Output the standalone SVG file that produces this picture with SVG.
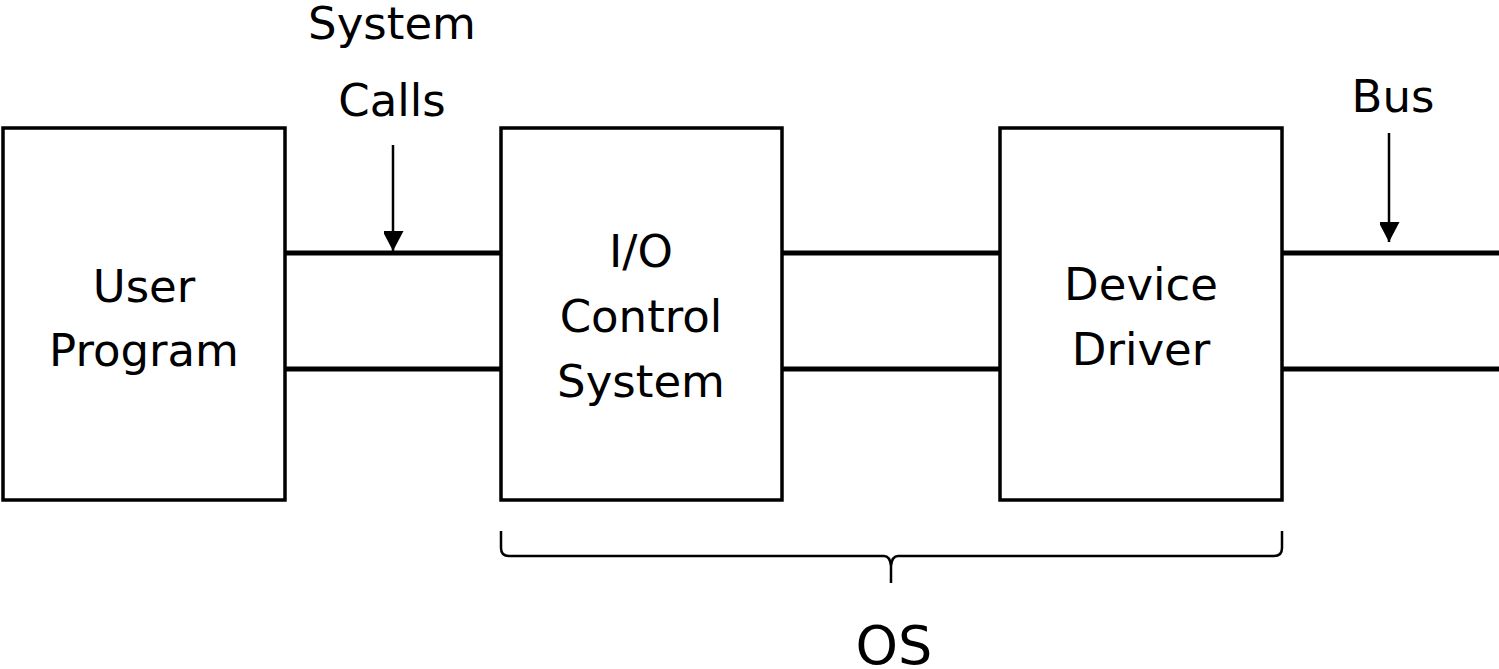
<svg xmlns="http://www.w3.org/2000/svg" width="1499" height="669" viewBox="0 0 1499 669">
  <style>
    .box { fill: #ffffff; stroke: #000000; stroke-width: 3.5; }
    .bus { stroke: #000000; stroke-width: 5; fill: none; }
    .arrow { stroke: #000000; stroke-width: 2.5; fill: none; }
    .brace { stroke: #000000; stroke-width: 2.5; fill: none; }
    .t { font-family: "DejaVu Sans", "Liberation Sans", sans-serif; font-size: 45px; fill: #000000; text-anchor: middle; }
    .os { font-size: 54px; }
  </style>
  <defs>
    <marker id="ah" markerWidth="21" markerHeight="20" refX="20" refY="10.5" orient="auto" markerUnits="userSpaceOnUse">
      <path d="M0,0 L20,10.5 L0,21 Z" fill="#000000"/>
    </marker>
  </defs>
  <rect width="1499" height="669" fill="#ffffff"/>

  <g id="connectors">
    <line class="bus" x1="285" y1="253" x2="501" y2="253"/>
    <line class="bus" x1="285" y1="369" x2="501" y2="369"/>
    <line class="bus" x1="782" y1="253" x2="1000" y2="253"/>
    <line class="bus" x1="782" y1="369" x2="1000" y2="369"/>
    <line class="bus" x1="1282" y1="253" x2="1499" y2="253"/>
    <line class="bus" x1="1282" y1="369" x2="1499" y2="369"/>
    <line class="arrow" x1="393" y1="145" x2="393" y2="251" marker-end="url(#ah)"/>
    <line class="arrow" x1="1389" y1="133" x2="1389" y2="242" marker-end="url(#ah)"/>
    <path class="brace" d="M501,531 L501,548 Q501,556 509,556 L884,556 Q890,556 891,566 L891,583 M891,583 L891,566 Q892,556 898,556 L1274,556 Q1282,556 1282,548 L1282,531"/>
  </g>

  <g id="user-program">
    <rect class="box" x="3" y="128" width="282" height="372"/>
    <text class="t" x="144" y="302">User</text>
    <text class="t" x="144" y="366">Program</text>
  </g>

  <g id="io-control-system">
    <rect class="box" x="501" y="128" width="281" height="372"/>
    <text class="t" x="641" y="267">I/O</text>
    <text class="t" x="641" y="332">Control</text>
    <text class="t" x="641" y="397">System</text>
  </g>

  <g id="device-driver">
    <rect class="box" x="1000" y="128" width="282" height="372"/>
    <text class="t" x="1141" y="300">Device</text>
    <text class="t" x="1141" y="365">Driver</text>
  </g>

  <g id="system-calls-label">
    <text class="t" x="392" y="39">System</text>
    <text class="t" x="392" y="116">Calls</text>
  </g>

  <g id="bus-label">
    <text class="t" x="1393" y="112">Bus</text>
  </g>

  <g id="os-label">
    <text class="t os" x="894" y="664">OS</text>
  </g>
</svg>
